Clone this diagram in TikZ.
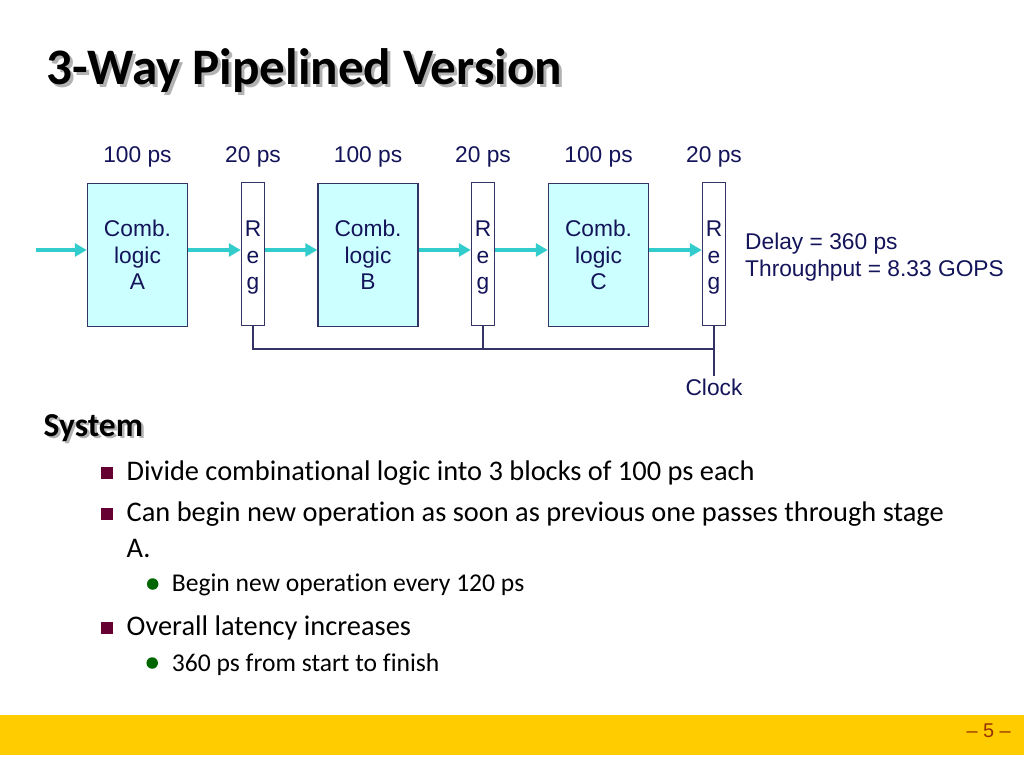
\documentclass[tikz,border=0pt]{standalone}
\usepackage{fontspec}
\setmainfont{Carlito}[Ligatures=NoCommon]
\newfontfamily\diagfont{Liberation Sans}
\usepackage{xcolor}
\usetikzlibrary{arrows.meta}

\definecolor{boxfill}{HTML}{CCFFFF}
\definecolor{boxline}{HTML}{333366}
\definecolor{diagtext}{HTML}{14145A}
\definecolor{flowcol}{HTML}{33CCCC}
\definecolor{sqcol}{HTML}{660033}
\definecolor{dotcol}{HTML}{006600}
\definecolor{footcol}{HTML}{FFCC00}
\definecolor{pagecol}{HTML}{993300}

\tikzset{
    lbl/.style={inner sep=0pt, text=diagtext, font=\diagfont\fontsize{22.75}{26.5}\selectfont},
    comb/.style={lbl, draw=boxline, line width=1.5pt, fill=boxfill, align=center,
        minimum width=100pt, minimum height=143pt},
    reg/.style={lbl, draw=boxline, line width=1.5pt, fill=white, align=center,
        minimum width=23pt, minimum height=143pt},
    flowarrow/.style={draw=flowcol, line width=4pt, -{Triangle[length=12pt,width=13pt]}},
    wire/.style={draw=boxline, line width=1.5pt},
    sqmark/.style={fill=sqcol, inner sep=0pt, minimum size=11.5pt},
    dotmark/.style={circle, fill=dotcol, inner sep=0pt, minimum size=11.5pt},
    lvlone/.style={anchor=base west, inner sep=0pt, font=\fontsize{28.4}{34}\selectfont},
    lvltwo/.style={anchor=base west, inner sep=0pt, font=\fontsize{25.6}{30}\selectfont},
    head/.style={anchor=base west, inner sep=0pt, font=\fontsize{51.2}{60}\selectfont\bfseries},
    subhead/.style={anchor=base west, inner sep=0pt, font=\fontsize{33.5}{40}\selectfont\bfseries}
}

\begin{document}
\begin{tikzpicture}[x=1pt, y=-1pt]

    \fill[white] (0,0) rectangle (1024,767);
    \useasboundingbox (0,0) rectangle (1024,767);

    % title with shadow
    \node[head, text=black!30] (titleshadow) at (49.7,88) {3-Way Pipelined Version};
    \node[head] (title) at (46.7,85) {3-Way Pipelined Version};

    % stages
    \foreach \s/\x in {A/137.5, B/368, C/598.5}
    {
        \node[comb] (c\s) at (\x,255) {Comb.\\logic\\\s};
        \node[lbl, anchor=base] (t\s) at (\x,163) {100 ps};
    }
    \foreach \n/\x in {1/253, 2/483, 3/714}
    {
        \node[reg] (r\n) at (\x,254) {\rule{0pt}{23pt}R\\e\\g};
        \node[lbl, anchor=base] (d\n) at (\x,163) {20 ps};
    }

    % data flow
    \coordinate (in) at (36,250);
    \draw[flowarrow] (in) -- (in -| cA.west);
    \foreach \a/\b in {cA/r1, r1/cB, cB/r2, r2/cC, cC/r3}
    {
        \draw[flowarrow] (\a.east |- in) -- (\b.west |- in);
    }

    \node[lbl, anchor=base west] (delay) at (745,249) {Delay = 360 ps};
    \node[lbl, anchor=base west] (thru) at (745,276) {Throughput = 8.33 GOPS};

    % clock
    \node[lbl, anchor=base, inner sep=2pt] (clk) at (714,395) {Clock};
    \coordinate (bus) at (714,349);
    \draw[wire] (r1.south) |- (bus);
    \draw[wire] (r2.south) -- (r2.south |- bus);
    \draw[wire] (r3.south) -- (clk.north);

    % text
    \node[subhead, text=black!30] (sysshadow) at (46,438) {System};
    \node[subhead] (sys) at (43.5,436) {System};

    \node[sqmark] (m1) at (107,473) {};
    \node[lvlone] (b1) at (126.5,480.7) {Divide combinational logic into 3 blocks of 100 ps each};
    \node[sqmark] (m2) at (107,514) {};
    \node[lvlone] (b2) at (126.5,521.7) {Can begin new operation as soon as previous one passes through stage};
    \node[lvlone] (b2a) at (126.5,557) {A.};
    \node[dotmark] (m3) at (152.7,584) {};
    \node[lvltwo] (s1) at (171.7,591.7) {Begin new operation every 120 ps};
    \node[sqmark] (m4) at (107,628) {};
    \node[lvlone] (b3) at (126.5,635) {Overall latency increases};
    \node[dotmark] (m5) at (152.2,663) {};
    \node[lvltwo] (s2) at (171.7,671) {360 ps from start to finish};

    % footer
    \fill[footcol] (0,715) rectangle (1024,755);
    \node[anchor=base east, inner sep=0pt, text=pagecol,
        font=\diagfont\fontsize{19.9}{24}\selectfont] (page) at (1011,737) {\textendash{} 5 \textendash};

\end{tikzpicture}
\end{document}
